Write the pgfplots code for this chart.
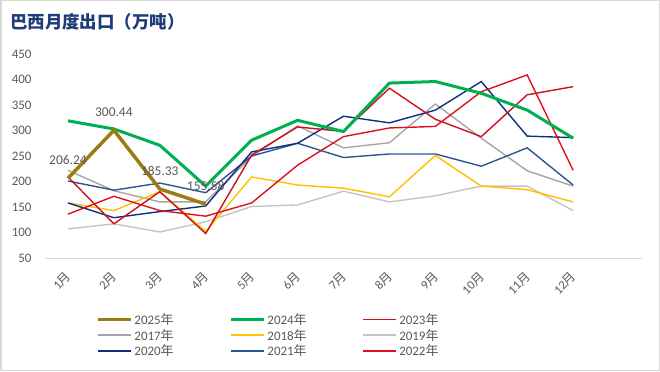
\documentclass[border=0pt]{standalone}
\usepackage{fontspec}
\setmainfont{Carlito}
\newfontfamily\cjk{Noto Sans CJK SC}
\usepackage{pgfplots}
\pgfplotsset{compat=1.18}
\definecolor{c25}{HTML}{9B7C12}
\definecolor{c24}{HTML}{00B050}
\definecolor{c23}{HTML}{D0101C}
\definecolor{c22}{HTML}{E0101C}
\definecolor{c17}{HTML}{A5A5A5}
\definecolor{c18}{HTML}{FFC000}
\definecolor{c19}{HTML}{C4C4C4}
\definecolor{c20}{HTML}{102F7E}
\definecolor{c21}{HTML}{2E5593}
\definecolor{ctitle}{HTML}{1F3C78}
\definecolor{ctext}{HTML}{595959}
\definecolor{cax}{HTML}{D9D9D9}
\newcommand{\legtxt}[1]{\makebox[46bp][l]{#1{\cjk 年}}}
\begin{document}
\begin{tikzpicture}[x=1bp,y=1bp]
\useasboundingbox (0,0) rectangle (660,371);
\draw[draw=cax, line width=1.5bp] (0.75,0.75) rectangle (659.25,370.25);
\node[anchor=west, text=ctitle, font=\cjk\bfseries\fontsize{17.5}{17.5}\selectfont, inner sep=0] at (10,349) {巴西月度出口（万吨）};
\begin{axis}[
  at={(45bp,113bp)}, anchor=south west,
  scale only axis, width=597bp, height=204bp,
  xmin=0.5, xmax=13.5, ymin=50, ymax=450,
  ytick={50,100,...,450},
  xtick={1,...,12},
  xticklabels={{1{\cjk 月}},{2{\cjk 月}},{3{\cjk 月}},{4{\cjk 月}},{5{\cjk 月}},{6{\cjk 月}},{7{\cjk 月}},{8{\cjk 月}},{9{\cjk 月}},{10{\cjk 月}},{11{\cjk 月}},{12{\cjk 月}}},
  axis x line*=bottom, axis y line*=left,
  x axis line style={draw=cax, line width=1bp, -},
  y axis line style={draw=none},
  major tick length=0pt, tick style={draw=none},
  /pgf/number format/assume math mode=true,
  yticklabel style={text=ctext, font=\fontsize{13}{13}\selectfont, xshift=-10bp},
  xticklabel style={text=ctext, font=\fontsize{12.5}{12.5}\selectfont, xshift=3bp, yshift=-14bp, rotate=45, anchor=east},
  legend columns=3,
  legend style={draw=none, fill=none, at={(0.080,-0.255)}, anchor=north west,
    font=\fontsize{13}{13}\selectfont, text=ctext, row sep=1.5bp,
    nodes={inner sep=1bp, anchor=west},
    /tikz/every odd column/.append style={column sep=1bp},
    /tikz/every even column/.append style={column sep=48bp}},
  legend image code/.code={\draw[#1] (0bp,0bp) -- (33bp,0bp);},
]
\addlegendimage{draw=c25, line width=3.5bp}\addlegendentry{\legtxt{2025}}
\addlegendimage{draw=c24, line width=3bp}\addlegendentry{\legtxt{2024}}
\addlegendimage{draw=c23, line width=1.8bp}\addlegendentry{\legtxt{2023}}
\addlegendimage{draw=c17, line width=1.8bp}\addlegendentry{\legtxt{2017}}
\addlegendimage{draw=c18, line width=1.8bp}\addlegendentry{\legtxt{2018}}
\addlegendimage{draw=c19, line width=1.8bp}\addlegendentry{\legtxt{2019}}
\addlegendimage{draw=c20, line width=1.8bp}\addlegendentry{\legtxt{2020}}
\addlegendimage{draw=c21, line width=1.8bp}\addlegendentry{\legtxt{2021}}
\addlegendimage{draw=c22, line width=1.8bp}\addlegendentry{\legtxt{2022}}
% 2019
\addplot[c19, line width=1.4bp, forget plot] coordinates {(1,107) (2,117) (3,101) (4,121) (5,151) (6,154) (7,181) (8,160) (9,172) (10,191) (11,191) (12,143)};
% 2017
\addplot[c17, line width=1.4bp, forget plot] coordinates {(1,222) (2,182) (3,160) (4,160) (5,249) (6,309) (7,266) (8,276) (9,352) (10,285) (11,221) (12,191)};
% 2018
\addplot[c18, line width=1.4bp, forget plot] coordinates {(1,158) (2,143) (3,180) (4,102) (5,209) (6,193) (7,187) (8,170) (9,251) (10,191) (11,184) (12,160)};
% 2021
\addplot[c21, line width=1.4bp, forget plot] coordinates {(1,201) (2,183) (3,197) (4,178) (5,250) (6,275) (7,247) (8,254) (9,254) (10,230) (11,266) (12,193)};
% 2020
\addplot[c20, line width=1.4bp, forget plot] coordinates {(1,158) (2,129) (3,141) (4,152) (5,258) (6,275) (7,328) (8,315) (9,340) (10,396) (11,289) (12,286)};
% 2022
\addplot[c22, line width=1.4bp, forget plot] coordinates {(1,136) (2,171) (3,143) (4,132) (5,158) (6,232) (7,288) (8,305) (9,308) (10,376) (11,409) (12,222)};
% 2023
\addplot[c23, line width=1.4bp, forget plot] coordinates {(1,209) (2,117) (3,180) (4,98) (5,252) (6,307) (7,298) (8,383) (9,322) (10,288) (11,370) (12,386)};
% 2024
\addplot[c24, line width=3bp, forget plot] coordinates {(1,319) (2,303) (3,271) (4,191) (5,281) (6,320) (7,298) (8,393) (9,396) (10,373) (11,340) (12,285)};
% 2025
\addplot[c25, line width=3.5bp, forget plot,
  point meta=explicit symbolic, nodes near coords,
  every node near coord/.append style={anchor=center, yshift=18bp, text=ctext, font=\fontsize{13.5}{13.5}\selectfont}]
  coordinates {(1,206.24) [206.24] (2,300.44) [300.44] (3,185.33) [185.33] (4,155.58) [155.58]};
\end{axis}
\end{tikzpicture}
\end{document}
